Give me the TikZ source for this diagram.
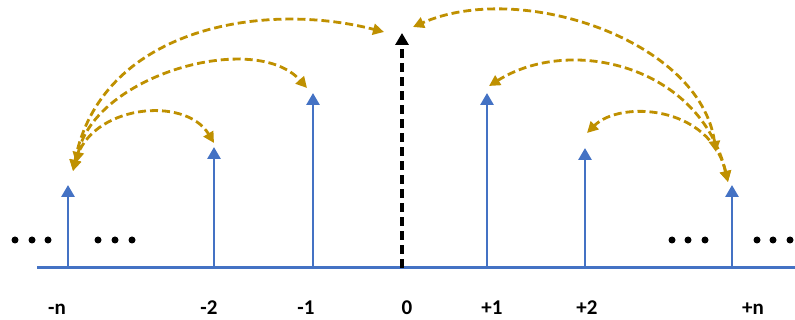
\documentclass[tikz,border=0pt]{standalone}
\usepackage{fontspec}
\setmainfont{Carlito}
\usetikzlibrary{arrows.meta}
\definecolor{axisblue}{HTML}{4472C4}
\definecolor{linkgold}{HTML}{BF9000}
\tikzset{
  stemline/.style={axisblue, line width=2.8pt, -{Triangle[length=12pt,width=13pt]}},
  zerostem/.style={black, line width=3.6pt, dash pattern=on 9pt off 5pt, -{Triangle[length=12pt,width=13pt]}},
  goldlink/.style={linkgold, line width=2.8pt, dash pattern=on 8pt off 4pt,
    {Triangle[length=11pt,width=11pt]}-{Triangle[length=11pt,width=11pt]}},
  lbl/.style={font=\bfseries\fontsize{21}{21}\selectfont, anchor=base, inner sep=0pt},
  dotnode/.style={circle, fill=black, inner sep=0pt, minimum size=7pt}
}
\begin{document}
\begin{tikzpicture}[x=1pt,y=-1pt]
\useasboundingbox (0,0) rectangle (795,320);
% axis
\coordinate (axL) at (37,268);
\coordinate (axR) at (795,268);
\draw[axisblue, line width=3pt] (axL) -- (axR);
% stem bases and tops
\coordinate (bmn) at (68,268);  \coordinate (tmn) at (68,185);
\coordinate (bm2) at (214,268); \coordinate (tm2) at (214,147);
\coordinate (bm1) at (313,268); \coordinate (tm1) at (313,93);
\coordinate (b0)  at (402,268); \coordinate (t0)  at (402,33);
\coordinate (bp1) at (487,268); \coordinate (tp1) at (487,93);
\coordinate (bp2) at (585,268); \coordinate (tp2) at (585,148);
\coordinate (bpn) at (732,268); \coordinate (tpn) at (732,185);
\draw[stemline] (bmn) -- (tmn);
\draw[stemline] (bm2) -- (tm2);
\draw[stemline] (bm1) -- (tm1);
\draw[zerostem] (b0) -- (t0);
\draw[stemline] (bp1) -- (tp1);
\draw[stemline] (bp2) -- (tp2);
\draw[stemline] (bpn) -- (tpn);
% labels
\node[lbl] (lmn) at (57,314) {-n};
\node[lbl] (lm2) at (209,314) {-2};
\node[lbl] (lm1) at (306,314) {-1};
\node[lbl] (l0)  at (407,314) {0};
\node[lbl] (lp1) at (492,314) {+1};
\node[lbl] (lp2) at (587,314) {+2};
\node[lbl] (lpn) at (753,314) {+n};
% dots
\foreach \x [count=\i] in {15,32,48,98,115,132,672,688,705,757,773,790}
  \node[dotnode] (d\i) at (\x,240) {};
% arc end points
\coordinate (Ln) at (73,171);
\coordinate (Ln2) at (76,163);
\coordinate (Am2) at (214,143);
\coordinate (Am1) at (307,88);
\coordinate (A0l) at (384,32);
\coordinate (Rn) at (728,182);
\coordinate (Rn2) at (716,152);
\coordinate (Ap2) at (587,133);
\coordinate (Ap1) at (489,86);
\coordinate (A0r) at (413,27);
% arcs left
\draw[goldlink] (Ln) .. controls (90,105) and (185,95) .. (Am2);
\draw[goldlink] (Ln2) .. controls (95,75) and (255,30) .. (Am1);
\draw[goldlink] (Ln) .. controls (100,30) and (260,0) .. (A0l);
% arcs right
\draw[goldlink] (Rn) .. controls (710,105) and (620,100) .. (Ap2);
\draw[goldlink] (Rn) .. controls (700,65) and (570,35) .. (Ap1);
\draw[goldlink] (Rn2) .. controls (700,40) and (520,-20) .. (A0r);
\end{tikzpicture}
\end{document}
